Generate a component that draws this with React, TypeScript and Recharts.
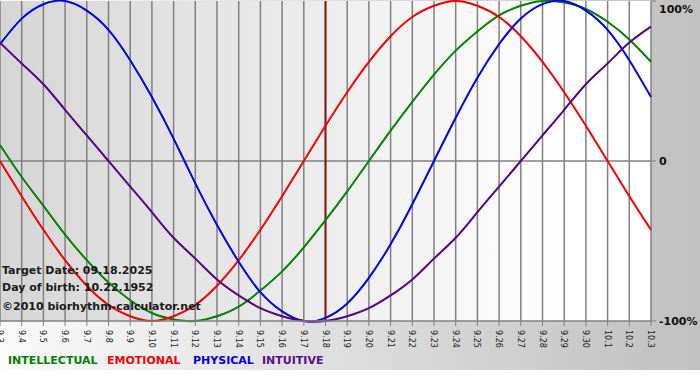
import React from "react";
import {
  LineChart,
  Line,
  XAxis,
  YAxis,
  CartesianGrid,
  ReferenceLine,
} from "recharts";

// day labels, 9.3 .. 10.3
const days = [
  "9.3", "9.4", "9.5", "9.6", "9.7", "9.8", "9.9", "9.10", "9.11", "9.12",
  "9.13", "9.14", "9.15", "9.16", "9.17", "9.18", "9.19", "9.20", "9.21", "9.22",
  "9.23", "9.24", "9.25", "9.26", "9.27", "9.28", "9.29", "9.30", "10.1", "10.2",
  "10.3",
];

const physical = [
  0.73, 0.89, 0.98, 1.0, 0.94, 0.82, 0.63, 0.4, 0.14, -0.14,
  -0.4, -0.63, -0.82, -0.94, -1.0, -0.98, -0.89, -0.73, -0.52, -0.27,
  0.0, 0.27, 0.52, 0.73, 0.89, 0.98, 1.0, 0.94, 0.82, 0.63,
  0.4,
];

const emotional = [
  0.0, -0.22, -0.43, -0.62, -0.78, -0.9, -0.97, -1.0, -0.97, -0.9,
  -0.78, -0.62, -0.43, -0.22, 0.0, 0.22, 0.43, 0.62, 0.78, 0.9,
  0.97, 1.0, 0.97, 0.9, 0.78, 0.62, 0.43, 0.22, 0.0, -0.22,
  -0.43,
];

const intellectual = [
  0.1, -0.1, -0.28, -0.46, -0.62, -0.76, -0.87, -0.95, -0.99, -1.0,
  -0.97, -0.91, -0.81, -0.69, -0.54, -0.37, -0.19, 0.0, 0.19, 0.37,
  0.54, 0.69, 0.81, 0.91, 0.97, 1.0, 0.99, 0.95, 0.87, 0.76,
  0.62,
];

const intuitive = [
  0.74, 0.61, 0.48, 0.32, 0.16, 0.0, -0.16, -0.32, -0.48, -0.61,
  -0.74, -0.84, -0.92, -0.97, -1.0, -1.0, -0.97, -0.92, -0.84, -0.74,
  -0.61, -0.48, -0.32, -0.16, 0.0, 0.16, 0.32, 0.48, 0.61, 0.74,
  0.84,
];

const yTicks = [-1, 0, 1];
const yLabels: { [k: string]: string } = { "-1": "-100%", "0": "0", "1": "100%" };

const targetIndex = days.indexOf("9.18");

const data = days.map((d, i) => ({
  i,
  day: d,
  intellectual: intellectual[i],
  emotional: emotional[i],
  physical: physical[i],
  intuitive: intuitive[i],
}));

const FONT = "Verdana, 'DejaVu Sans', sans-serif";

const XTick = (props: any) => {
  const { x, y, payload } = props;
  return (
    <text
      transform={`translate(${x - 3},${y + 2}) rotate(90)`}
      textAnchor="start"
      fontSize={8}
      fontFamily={FONT}
      fill="#222"
    >
      {days[payload.value]}
    </text>
  );
};

const YTick = (props: any) => {
  const { x, y, payload } = props;
  return (
    <text
      x={x + 1}
      y={Math.max(y, 7)}
      dy={4}
      textAnchor="start"
      fontSize={11}
      fontWeight="bold"
      fontFamily={FONT}
      fill="#111"
    >
      {yLabels[String(payload.value)]}
    </text>
  );
};

const legendItems = [
  { label: "INTELLECTUAL", color: "#008000", left: 8 },
  { label: "EMOTIONAL", color: "#ee0000", left: 107 },
  { label: "PHYSICAL", color: "#0000dd", left: 193 },
  { label: "INTUITIVE", color: "#5a0a8c", left: 262 },
];

const infoLines = [
  { text: "Target Date: 09.18.2025", top: 264 },
  { text: "Day of birth: 10.22.1952", top: 281 },
  { text: "\u00a92010 biorhythm-calculator.net", top: 300 },
];

export default function App() {
  return (
    <div style={{ position: "relative", width: 700, height: 380, background: "#fff" }}>
      <style>{"body{margin:0}"}</style>
      <div
        style={{
          position: "absolute",
          left: 0,
          top: 0,
          width: 700,
          height: 370,
          background: "linear-gradient(to right, #fafafa, #c0c0c0)",
        }}
      />
      <div style={{ position: "absolute", left: 0, top: 0 }}>
        <LineChart
          width={700}
          height={370}
          data={data}
          margin={{ top: 1, right: 0, bottom: 0, left: 0 }}
        >
          <defs>
            <linearGradient id="plotBg" x1="0" y1="0" x2="1" y2="0">
              <stop offset="0%" stopColor="#d6d6d6" />
              <stop offset="88%" stopColor="#ffffff" />
              <stop offset="100%" stopColor="#ffffff" />
            </linearGradient>
          </defs>
          <CartesianGrid
            horizontal={false}
            stroke="#808080"
            strokeWidth={1.5}
            fill="url(#plotBg)"
            fillOpacity={1}
          />
          <XAxis
            dataKey="i"
            type="number"
            domain={[0, days.length - 1]}
            ticks={days.map((_, i) => i)}
            interval={0}
            height={49}
            tick={<XTick />}
            tickSize={5}
            axisLine={{ stroke: "#808080", strokeWidth: 1.5 }}
            tickLine={{ stroke: "#808080" }}
          />
          <YAxis
            orientation="right"
            domain={[-1, 1]}
            ticks={yTicks}
            width={49}
            tick={<YTick />}
            tickSize={5}
            axisLine={false}
            tickLine={{ stroke: "#808080" }}
          />
          <ReferenceLine y={0} stroke="#808080" strokeWidth={1.5} />
          <ReferenceLine x={targetIndex} stroke="#8b1a1a" strokeWidth={2} />
          <Line type="natural" dataKey="intellectual" stroke="#008000" strokeWidth={2} dot={false} isAnimationActive={false} />
          <Line type="natural" dataKey="emotional" stroke="#ee0000" strokeWidth={2} dot={false} isAnimationActive={false} />
          <Line type="natural" dataKey="physical" stroke="#0000dd" strokeWidth={2} dot={false} isAnimationActive={false} />
          <Line type="natural" dataKey="intuitive" stroke="#550088" strokeWidth={2} dot={false} isAnimationActive={false} />
        </LineChart>
      </div>
      {infoLines.map((l) => (
        <div
          key={l.text}
          style={{
            position: "absolute",
            left: 2,
            top: l.top,
            fontFamily: FONT,
            fontWeight: "bold",
            fontSize: 11,
            color: "#1a1a1a",
            whiteSpace: "nowrap",
          }}
        >
          {l.text}
        </div>
      ))}
      {legendItems.map((l) => (
        <div
          key={l.label}
          style={{
            position: "absolute",
            left: l.left,
            top: 354,
            fontFamily: FONT,
            fontWeight: "bold",
            fontSize: 11,
            color: l.color,
            whiteSpace: "nowrap",
          }}
        >
          {l.label}
        </div>
      ))}
    </div>
  );
}
